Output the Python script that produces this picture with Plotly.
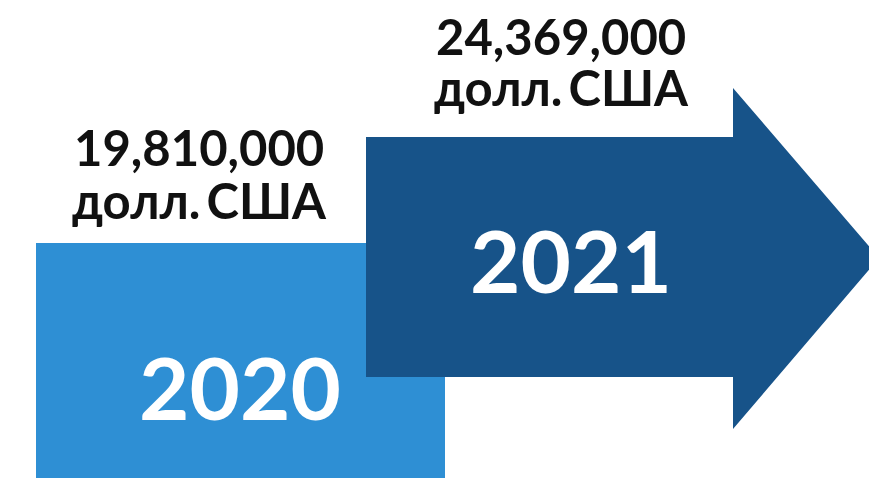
import plotly.graph_objects as go

years = ["2020", "2021"]
values = [19810000, 24369000]
unit = "долл. США"

W, H = 877, 478
OFF = 8  # page body margin
light = "#2E8FD4"
dark = "#175389"

fig = go.Figure()
fig.update_layout(
    width=W - OFF, height=H - OFF,
    margin=dict(l=0, r=0, t=0, b=0),
    paper_bgcolor="white", plot_bgcolor="white",
    xaxis=dict(range=[OFF, W], visible=False, fixedrange=True),
    yaxis=dict(range=[H, OFF], visible=False, fixedrange=True),
    showlegend=False,
)

# 2020 block
fig.add_shape(type="rect", x0=36, x1=445, y0=243, y1=H + 5,
              fillcolor=light, line=dict(width=0), layer="below")
# 2021 arrow
fig.add_shape(type="path",
              path="M 366 137 L 733 137 L 733 88 L 879 258 L 733 429 L 733 377 L 366 377 Z",
              fillcolor=dark, line=dict(width=0), layer="below")

lab_font = dict(family="Lato", size=49, color="#111111")
year_font = dict(family="Lato", size=87, color="white")

label_pos = [(199, 147, 200), (561, 36, 87)]
year_pos = [(240, 386), (571, 259)]

unit_disp = unit.replace(" ", "\u2009")

for (yr, v, (lx, ly1, ly2), (yx, yy)) in zip(years, values, label_pos, year_pos):
    fig.add_annotation(x=lx, y=ly1, text=f"<b>{v:,}</b>", showarrow=False,
                       font=lab_font, xanchor="center", yanchor="middle")
    fig.add_annotation(x=lx, y=ly2, text=f"<b>{unit_disp}</b>", showarrow=False,
                       font=lab_font, xanchor="center", yanchor="middle")
    fig.add_annotation(x=yx, y=yy, text=f"<b>{yr}</b>", showarrow=False,
                       font=year_font, xanchor="center", yanchor="middle")

fig.write_html("out.html")
